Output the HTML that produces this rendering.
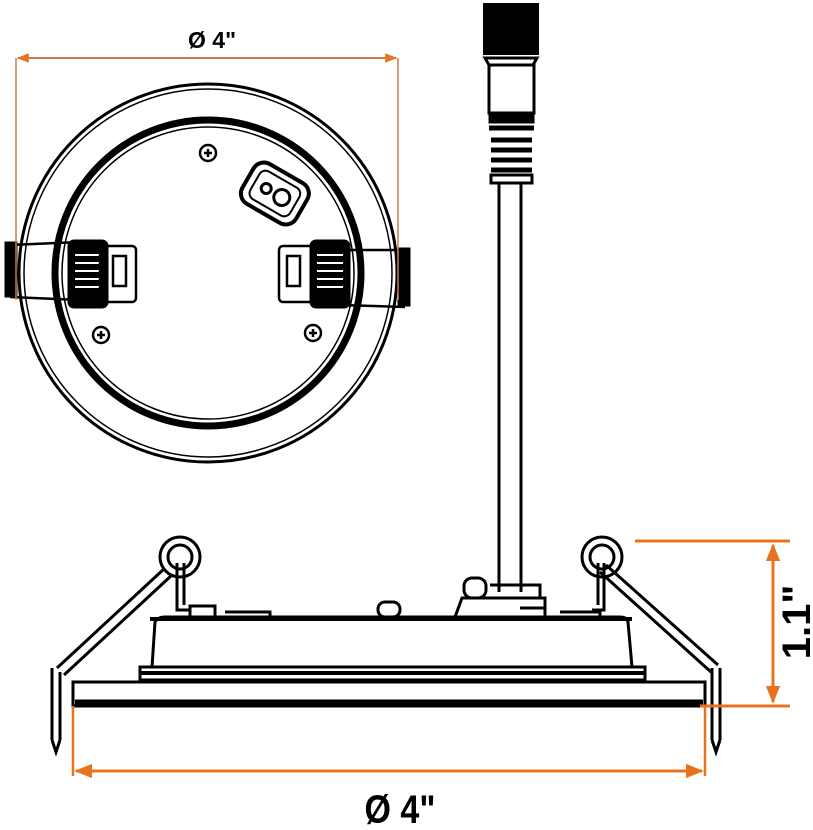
<!DOCTYPE html>
<html><head><meta charset="utf-8"><style>html,body{margin:0;padding:0;background:#fff}svg{display:block}</style></head>
<body>
<svg width="813" height="830" viewBox="0 0 813 830" xmlns="http://www.w3.org/2000/svg">
<defs>
<marker id="a" viewBox="0 0 10 10" refX="9" refY="5" markerWidth="6" markerHeight="6" orient="auto-start-reverse"><path d="M0,1 L10,5 L0,9 z" fill="#e8731f"/></marker>
</defs>
<g fill="none" stroke="#000">
<!-- top view -->
<circle cx="208" cy="273" r="189" stroke-width="3"/>
<circle cx="208" cy="273" r="184" stroke-width="1.5"/>
<circle cx="208" cy="273" r="153" stroke-width="7"/>
<circle cx="208" cy="273" r="146" stroke-width="1.5"/>
<circle cx="208" cy="153" r="8" stroke-width="2.5"/>
<circle cx="101" cy="335" r="8" stroke-width="2.5"/>
<circle cx="313" cy="333" r="8" stroke-width="2.5"/>
<path d="M204,153h8M208,149v8M97,335h8M101,331v8M309,333h8M313,329v8" stroke-width="2.5"/>
<g transform="rotate(30 274 193)">
<rect x="244" y="170" width="62" height="46" rx="12" stroke-width="4"/>
<rect x="252" y="177" width="46" height="32" rx="7" stroke-width="2"/>
<circle cx="265" cy="193" r="5" stroke-width="3"/>
<circle cx="283" cy="193" r="8" stroke-width="3"/>
</g>
<!-- left clip -->
<rect x="5" y="242" width="12" height="55" fill="#000"/>
<path d="M10,245 L80,242 M10,297 L80,300" stroke-width="2.5"/>
<rect x="68" y="240" width="40" height="68" rx="6" fill="#000"/>
<path d="M75,255h26M75,263h26M75,271h26M75,279h26M75,287h26" stroke="#fff" stroke-width="2"/>
<rect x="100" y="246" width="36" height="56" rx="4" stroke-width="2.5"/>
<rect x="113" y="256" width="13" height="30" stroke-width="2.5"/>
<!-- right clip -->
<rect x="398" y="248" width="12" height="58" fill="#000"/>
<path d="M340,250 L405,250 M340,305 L405,307" stroke-width="2.5"/>
<rect x="310" y="240" width="40" height="68" rx="6" fill="#000"/>
<path d="M317,255h26M317,263h26M317,271h26M317,279h26M317,287h26" stroke="#fff" stroke-width="2"/>
<rect x="279" y="246" width="36" height="56" rx="4" stroke-width="2.5"/>
<rect x="287" y="256" width="13" height="30" stroke-width="2.5"/>
<!-- connector & cable -->
<rect x="483" y="3" width="56" height="52" fill="#000" stroke="none"/>
<path d="M485,58 L537,58 L533,65 L489,65 Z" stroke-width="3"/>
<rect x="489" y="65" width="45" height="48" stroke-width="3"/>
<rect x="489" y="113" width="45" height="10" fill="#000"/>
<path d="M489,128h45M491,140h41M491,150h41M491,160h41M491,170h41" stroke-width="5"/>
<rect x="491" y="175" width="41" height="8" stroke-width="3"/>
<path d="M499,183 V592 M521,183 V592" stroke-width="3"/>
<!-- side view -->
<rect x="73" y="682" width="632" height="24" stroke-width="3"/>
<path d="M75,702H703" stroke-width="5"/>
<rect x="140" y="667" width="505" height="13" stroke-width="3"/>
<path d="M140,673H645" stroke-width="4"/>
<path d="M152,667 L155,622 Q158,617 165,617 L620,617 Q627,617 628,622 L632,667" stroke-width="3"/>
<path d="M150,619H632" stroke-width="4"/>
<rect x="464" y="578" width="22" height="20" rx="8" stroke-width="3"/>
<path d="M455,617 L462,598 H545 V617 M490,585 H540 V598" stroke-width="3"/>
<rect x="378" y="602" width="22" height="15" rx="7" stroke-width="3"/>
<path d="M190,617 V606 H215 V617 M225,612 H270 V617 M560,612 H600 V617 M520,608 H545" stroke-width="3"/>
<!-- left spring -->
<circle cx="180" cy="557" r="20" stroke-width="3"/>
<circle cx="180" cy="557" r="12" stroke-width="3"/>
<path d="M177,563 V610 H190 M184,563 V605" stroke-width="3"/>
<path d="M165,568 L57,668 M172,575 L64,675" stroke-width="3"/>
<path d="M52,668 V740 M60,672 V740 M52,740 L56,752 L60,740" stroke-width="3"/>
<!-- right spring -->
<circle cx="602" cy="557" r="20" stroke-width="3"/>
<circle cx="602" cy="557" r="12" stroke-width="3"/>
<path d="M604,563 V610 H592 M598,563 V605" stroke-width="3"/>
<path d="M606,565 L718,665 M600,572 L711,672" stroke-width="3"/>
<path d="M712,668 V740 M720,668 V740 M712,740 L716,752 L720,740" stroke-width="3"/>
</g>
<!-- dimensions -->
<g stroke="#e8731f" fill="none">
<path d="M16,58 V300 M398,58 V300" stroke-width="1.5" stroke="#c77a50"/>
<line x1="18" y1="58" x2="396" y2="58" stroke-width="2" stroke="#c77a50" marker-start="url(#a)" marker-end="url(#a)"/>
<path d="M73,706 V776 M705,706 V776" stroke-width="2.5"/>
<line x1="76" y1="771" x2="702" y2="771" stroke-width="3" marker-start="url(#a)" marker-end="url(#a)"/>
<path d="M635,541 H790 M700,706 H790" stroke-width="3"/>
<line x1="773" y1="545" x2="773" y2="702" stroke-width="3" marker-start="url(#a)" marker-end="url(#a)"/>
</g>
<text x="212" y="48" text-anchor="middle" font-family="Liberation Sans, sans-serif" font-weight="bold" font-size="23">Ø 4"</text>
<text x="400" y="823" text-anchor="middle" font-family="Liberation Sans, sans-serif" font-weight="bold" font-size="40" transform="translate(400 0) scale(0.85 1) translate(-400 0)">Ø 4"</text>
<text x="0" y="0" text-anchor="middle" font-family="Liberation Sans, sans-serif" font-weight="bold" font-size="40" transform="translate(810 622) rotate(-90)">1.1"</text>
</svg>
</body></html>
